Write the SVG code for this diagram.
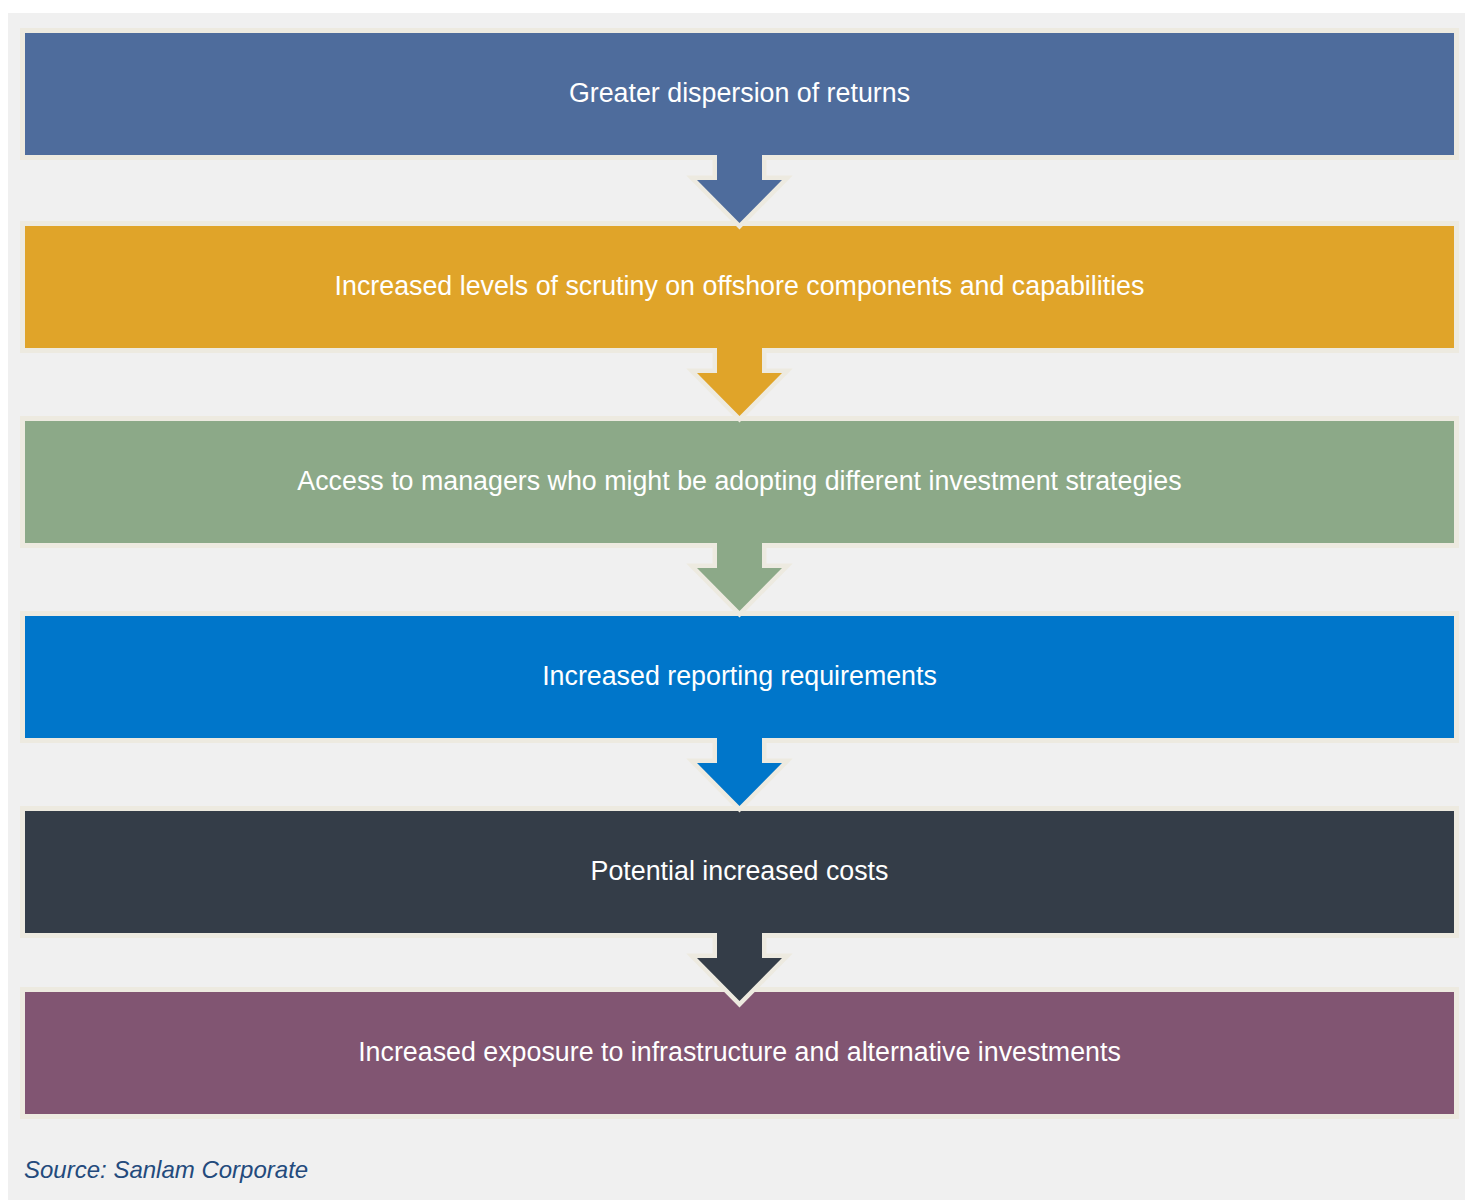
<svg xmlns="http://www.w3.org/2000/svg" width="1465" height="1202" viewBox="0 0 1465 1202">
<style>
.frame{fill:#EDEAE0}
.lbl{font-family:"Liberation Sans",Arial,sans-serif;font-size:26.8px;fill:#FFFFFF;text-anchor:middle}
.src{font-family:"Liberation Sans",Arial,sans-serif;font-size:24px;font-style:italic;fill:#234A7C}
.aout{fill:none;stroke:#EDEAE0;stroke-width:9;stroke-linejoin:miter}
</style>
<rect x="0" y="0" width="1465" height="1202" fill="#FFFFFF"/>
<rect x="8" y="13" width="1457" height="1187" fill="#F0F0F0"/>
<g id="node1"><rect class="frame" x="20" y="28" width="1439" height="132"/><rect x="25" y="33" width="1429" height="122" fill="#4E6C9C"/><text class="lbl" x="739.5" y="102">Greater dispersion of returns</text></g>
<g id="node2"><rect class="frame" x="20" y="221" width="1439" height="132"/><rect x="25" y="226" width="1429" height="122" fill="#E0A429"/><text class="lbl" x="739.5" y="295">Increased levels of scrutiny on offshore components and capabilities</text></g>
<g id="node3"><rect class="frame" x="20" y="416" width="1439" height="132"/><rect x="25" y="421" width="1429" height="122" fill="#8CA988"/><text class="lbl" x="739.5" y="490">Access to managers who might be adopting different investment strategies</text></g>
<g id="node4"><rect class="frame" x="20" y="611" width="1439" height="132"/><rect x="25" y="616" width="1429" height="122" fill="#0076CA"/><text class="lbl" x="739.5" y="685">Increased reporting requirements</text></g>
<g id="node5"><rect class="frame" x="20" y="806" width="1439" height="132"/><rect x="25" y="811" width="1429" height="122" fill="#343D48"/><text class="lbl" x="739.5" y="880">Potential increased costs</text></g>
<g id="node6"><rect class="frame" x="20" y="987" width="1439" height="132"/><rect x="25" y="992" width="1429" height="122" fill="#815572"/><text class="lbl" x="739.5" y="1061">Increased exposure to infrastructure and alternative investments</text></g>
<g id="connectors">
<path class="aout" d="M717 155 V180 H697 L739.5 223 L782 180 H762 V155"/>
<path fill="#4E6C9C" d="M717 154 V180 H697 L739.5 223 L782 180 H762 V154 Z"/>
<path class="aout" d="M717 348 V373 H697 L739.5 416 L782 373 H762 V348"/>
<path fill="#E0A429" d="M717 347 V373 H697 L739.5 416 L782 373 H762 V347 Z"/>
<path class="aout" d="M717 543 V568 H697 L739.5 611 L782 568 H762 V543"/>
<path fill="#8CA988" d="M717 542 V568 H697 L739.5 611 L782 568 H762 V542 Z"/>
<path class="aout" d="M717 738 V763 H697 L739.5 806 L782 763 H762 V738"/>
<path fill="#0076CA" d="M717 737 V763 H697 L739.5 806 L782 763 H762 V737 Z"/>
<path class="aout" d="M717 933 V958 H697 L739.5 1001 L782 958 H762 V933"/>
<path fill="#343D48" d="M717 932 V958 H697 L739.5 1001 L782 958 H762 V932 Z"/>
</g>
<text class="src" x="24" y="1178">Source: Sanlam Corporate</text>
</svg>
